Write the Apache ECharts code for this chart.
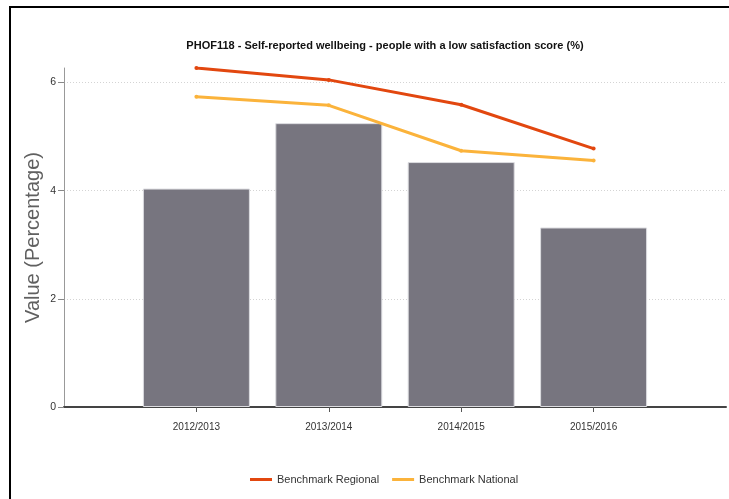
<!DOCTYPE html>
<html>
<head>
<meta charset="utf-8">
<script src="https://cdn.jsdelivr.net/npm/echarts@6/dist/echarts.min.js"></script>
<style>
  html, body { margin: 0; padding: 0; background: #fff; }
  #chart { width: 729px; height: 499px; }
</style>
</head>
<body>
<div id="chart"></div>
<script>
// Reporting periods
const categories = ['2012/2013', '2013/2014', '2014/2015', '2015/2016'];
// Local value (bars), percent
const localValues = [4.04, 5.25, 4.53, 3.32];
// Benchmark lines, percent
const regionalValues = [6.27, 6.05, 5.59, 4.78];
const nationalValues = [5.74, 5.58, 4.74, 4.56];
// Y axis tick values
const yTicks = [0, 2, 4, 6];

const sans = "'Liberation Sans', Arial, sans-serif";

// One empty slot each side keeps the periods off the axis ends
const pad = arr => [null, ...arr, null];
const xCats = ['', ...categories, ''];
const yMax = Math.max(...localValues, ...regionalValues, ...nationalValues);

const chart = echarts.init(document.getElementById('chart'), null, { renderer: 'canvas' });

chart.setOption({
  animation: false,
  backgroundColor: '#ffffff',
  title: {
    text: 'PHOF118 - Self-reported wellbeing - people with a low satisfaction score (%)',
    left: 380,
    textAlign: 'center',
    top: 35,
    textStyle: { fontFamily: sans, fontSize: 11, fontWeight: 'bold', color: '#111' }
  },
  legend: {
    left: 245,
    top: 469,
    itemWidth: 22,
    itemHeight: 3,
    itemGap: 13,
    icon: 'rect',
    data: ['Benchmark Regional', 'Benchmark National'],
    textStyle: { fontFamily: sans, fontSize: 11, color: '#333' }
  },
  graphic: [{
    type: 'rect',
    shape: { x: 10, y: 7, width: 800, height: 600 },
    style: { fill: 'none', stroke: '#000', lineWidth: 2 },
    silent: true
  }],
  grid: { left: 64, right: -7, top: 68, bottom: 92 },
  xAxis: {
    type: 'category',
    data: xCats,
    boundaryGap: false,
    axisLine: { lineStyle: { color: '#444', width: 2 } },
    axisTick: {
      length: 5,
      interval: (i, v) => v !== '',
      lineStyle: { color: '#555' }
    },
    axisLabel: {
      interval: 0,
      margin: 15,
      fontFamily: sans,
      fontSize: 10,
      color: '#333'
    },
    splitLine: { show: false }
  },
  yAxis: {
    type: 'value',
    min: 0,
    max: yMax,
    interval: 2,
    name: 'Value (Percentage)',
    nameLocation: 'middle',
    nameGap: 21,
    nameMoveOverlap: false,
    nameTextStyle: { fontFamily: sans, fontSize: 20, color: '#606060' },
    axisLine: { show: true, lineStyle: { color: '#999', width: 1 } },
    axisTick: { show: true, length: 6, customValues: yTicks, lineStyle: { color: '#888' } },
    axisLabel: {
      customValues: yTicks,
      margin: 8,
      fontFamily: sans,
      fontSize: 10.5,
      color: '#333'
    },
    splitLine: { show: true, lineStyle: { color: '#d4d4d4', type: [1, 2], width: 1 } }
  },
  series: [
    {
      name: 'Value',
      type: 'bar',
      data: pad(localValues),
      barWidth: 107,
      itemStyle: { color: '#77757f', borderColor: '#dcdce0', borderWidth: 1 }
    },
    {
      name: 'Benchmark Regional',
      type: 'line',
      data: pad(regionalValues),
      symbol: 'circle',
      symbolSize: 4,
      lineStyle: { width: 3, color: '#e2470f' },
      itemStyle: { color: '#e2470f' }
    },
    {
      name: 'Benchmark National',
      type: 'line',
      data: pad(nationalValues),
      symbol: 'circle',
      symbolSize: 4,
      lineStyle: { width: 3, color: '#fbb33b' },
      itemStyle: { color: '#fbb33b' }
    }
  ]
});
</script>
</body>
</html>
